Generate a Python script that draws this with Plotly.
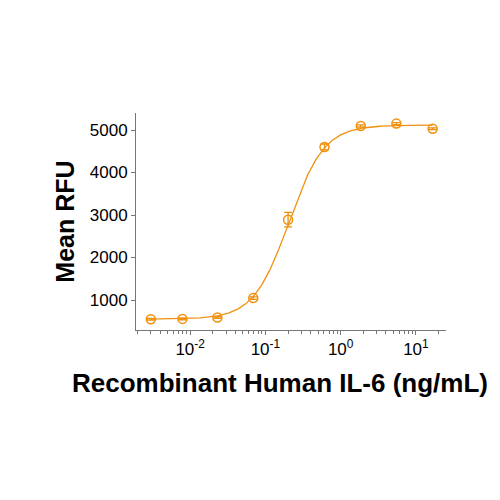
import plotly.graph_objects as go
import numpy as np

# Data
conc = [0.0030, 0.0079, 0.023, 0.069, 0.20, 0.61, 1.85, 5.5, 16.7]   # ng/mL
rfu = [545, 555, 590, 1045, 2890, 4600, 5095, 5150, 5030]
rfu_err = [20, 20, 20, 30, 170, 70, 25, 25, 20]

# 4PL fit parameters (estimated from the curve in the reference)
fit_bottom = 548
fit_top = 5115
fit_ec50 = 0.205
fit_hill = 1.85

x_tickvals = [0.01, 0.1, 1, 10]
x_ticktext = ["10<sup>-2</sup>", "10<sup>-1</sup>", "10<sup>0</sup>", "10<sup>1</sup>"]
y_tickvals = [1000, 2000, 3000, 4000, 5000]
x_title = "Recombinant Human IL-6 (ng/mL)"
y_title = "Mean RFU"

orange = "#F0900F"

xfit = np.logspace(np.log10(conc[0]), np.log10(conc[-1]), 300)
yfit = fit_bottom + (fit_top - fit_bottom) / (1 + (fit_ec50 / xfit) ** fit_hill)

fig = go.Figure()
fig.add_trace(go.Scatter(x=xfit, y=yfit, mode="lines",
                         line=dict(color=orange, width=1.3), hoverinfo="skip",
                         showlegend=False))
fig.add_trace(go.Scatter(x=conc, y=rfu, mode="markers",
                         marker=dict(symbol="circle-open", size=9, color=orange,
                                     line=dict(width=1.5, color=orange)),
                         error_y=dict(type="data", array=rfu_err, color=orange,
                                      thickness=1.3, width=4),
                         showlegend=False))

minor_vals = [m * 10 ** e for e in range(-3, 2) for m in range(2, 10)]

fig.update_layout(
    width=500, height=500,
    margin=dict(l=128, r=62, t=105, b=178, autoexpand=False),
    paper_bgcolor="white", plot_bgcolor="white",
    font=dict(family="Liberation Sans, Arial, sans-serif", color="black"),
    xaxis=dict(
        type="log", range=[-2.72, 1.4],
        tickvals=x_tickvals, ticktext=x_ticktext,
        ticks="outside", ticklen=4, tickcolor="#777", tickwidth=1,
        showline=True, linecolor="#777", linewidth=1,
        showgrid=False, zeroline=False,
        tickfont=dict(size=17),
        minor=dict(tickvals=minor_vals, ticks="outside", ticklen=3,
                   tickcolor="#777", showgrid=False),
    ),
    yaxis=dict(
        range=[294, 5400],
        tickvals=y_tickvals,
        ticks="outside", ticklen=4, tickcolor="#777", tickwidth=1,
        showline=True, linecolor="#777", linewidth=1,
        showgrid=False, zeroline=False,
        tickfont=dict(size=17),
        title=dict(text="<b>" + y_title + "</b>", font=dict(size=25), standoff=8),
    ),
    annotations=[dict(
        text="<b>" + x_title + "</b>", xref="paper", yref="paper",
        x=0.4645, y=0, xanchor="center", yanchor="middle", yshift=-53,
        showarrow=False, font=dict(size=26),
    )],
)

fig.write_html("out.html")
